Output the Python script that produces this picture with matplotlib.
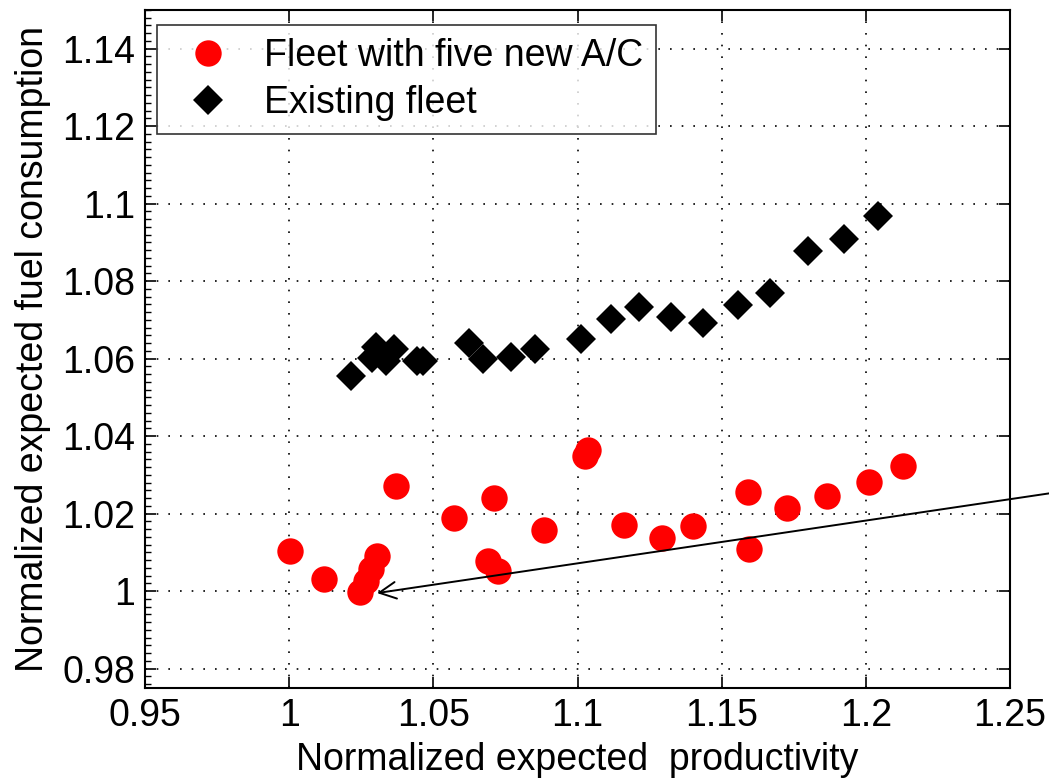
import numpy as np
import matplotlib
matplotlib.use("Agg")
import matplotlib.pyplot as plt
from matplotlib.ticker import MultipleLocator

plt.rcParams['font.family'] = ['Liberation Sans', 'DejaVu Sans']

## fleet with the five new aircraft (red)
new_x = [1.0003, 1.0121, 1.0246, 1.0266, 1.0284, 1.0305, 1.0370, 1.0571, 1.0689,
         1.0710, 1.0724, 1.0883, 1.1025, 1.1035, 1.1160, 1.1292, 1.1402, 1.1590,
         1.1596, 1.1728, 1.1866, 1.2012, 1.2129]
new_y = [1.0103, 1.0031, 0.9997, 1.0026, 1.0056, 1.0090, 1.0272, 1.0190, 1.0077,
         1.0241, 1.0051, 1.0159, 1.0349, 1.0364, 1.0172, 1.0136, 1.0169, 1.0256,
         1.0108, 1.0215, 1.0246, 1.0282, 1.0323]

## existing fleet (black)
old_x = [1.0215, 1.0287, 1.0301, 1.0336, 1.0364, 1.0443, 1.0464, 1.0623, 1.0672,
         1.0769, 1.0852, 1.1011, 1.1115, 1.1212, 1.1323, 1.1434, 1.1558, 1.1669,
         1.1800, 1.1925, 1.2043]
old_y = [1.0556, 1.0603, 1.0631, 1.0595, 1.0626, 1.0595, 1.0595, 1.0641, 1.0600,
         1.0605, 1.0626, 1.0650, 1.0703, 1.0733, 1.0708, 1.0692, 1.0738, 1.0769,
         1.0877, 1.0908, 1.0969]

x_ticks = [0.95, 1.0, 1.05, 1.1, 1.15, 1.2, 1.25]
x_labels = ['0.95', '1', '1.05', '1.1', '1.15', '1.2', '1.25']
y_ticks = [0.98, 1.0, 1.02, 1.04, 1.06, 1.08, 1.1, 1.12, 1.14]
y_labels = ['0.98', '1', '1.02', '1.04', '1.06', '1.08', '1.1', '1.12', '1.14']

fig = plt.figure(figsize=(10.49, 7.81), dpi=100)
ax = fig.add_axes([145 / 1049, 93 / 781, 865 / 1049, 678 / 781])

ax.plot(new_x, new_y, linestyle='none', marker='o', markersize=19,
        color='#ff0000', markeredgewidth=0, label='Fleet with five new A/C')
ax.plot(old_x, old_y, linestyle='none', marker='D', markersize=15,
        color='black', markeredgewidth=0, label='Existing fleet')

ax.set_xlim(0.95, 1.25)
ax.set_ylim(0.975, 1.15)
ax.set_xticks(x_ticks)
ax.set_xticklabels(x_labels)
ax.set_yticks(y_ticks)
ax.set_yticklabels(y_labels)
ax.yaxis.set_minor_locator(MultipleLocator(0.002))

ax.tick_params(which='major', direction='in', length=8, width=1.2,
               top=True, right=True, labelsize=27, pad=7)
ax.tick_params(axis='y', which='minor', direction='in', length=4, width=1,
               left=True, right=False)
for s in ax.spines.values():
    s.set_linewidth(1.5)

ax.grid(True, which='major', color='black', linestyle=(0, (1, 6)), linewidth=1.2)
ax.set_axisbelow(True)

ax.set_xlabel('Normalized expected  productivity', fontsize=27, labelpad=6)
ax.set_ylabel('Normalized expected fuel consumption', fontsize=27, labelpad=8)

## the arrow pointing at the lowest red point
ax.annotate('', xy=(1.0305, 0.9995), xytext=(1.285, 1.0276),
            arrowprops=dict(arrowstyle='->', lw=1.4, color='black',
                            mutation_scale=30, shrinkA=0, shrinkB=0),
            annotation_clip=False)

leg = ax.legend(loc='upper left', bbox_to_anchor=(0.014, 0.978), borderaxespad=0,
                fontsize=27, frameon=True, fancybox=False, handletextpad=0.5,
                borderpad=0.35, labelspacing=0.3, handlelength=2.0)
leg.get_frame().set_edgecolor('black')
leg.get_frame().set_linewidth(1.2)

fig.savefig('out.png', dpi=100)
